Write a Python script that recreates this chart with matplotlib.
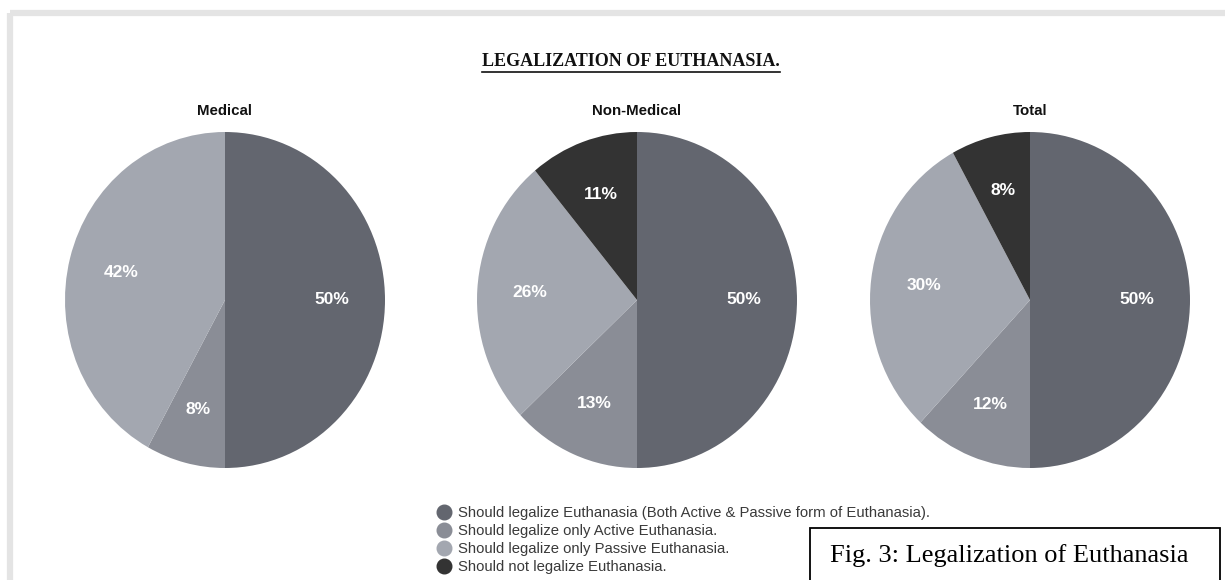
import matplotlib
matplotlib.use('Agg')
import matplotlib.pyplot as plt
from matplotlib.lines import Line2D
from matplotlib.patches import Rectangle

# ===== DATA =====
GROUPS = ["Medical", "Non-Medical", "Total"]
CATEGORIES = [
    "Should legalize Euthanasia (Both Active & Passive form of Euthanasia).",
    "Should legalize only Active Euthanasia.",
    "Should legalize only Passive Euthanasia.",
    "Should not legalize Euthanasia.",
]
MEDICAL = [50, 8, 42, 0]
NON_MEDICAL = [50, 13, 26, 11]
TOTAL = [50, 12, 30, 8]
COLORS = ["#63666f", "#8a8d96", "#a3a7b0", "#333333"]
TITLE = "LEGALIZATION OF EUTHANASIA."
CAPTION = "Fig. 3: Legalization of Euthanasia"
# ===== END DATA =====

W, H = 1225, 580
fig = plt.figure(figsize=(W / 100, H / 100), dpi=100)
fig.patch.set_facecolor('white')


def px_axes(x0, y0, w, h):
    """axes from pixel box (top-left origin)"""
    return fig.add_axes([x0 / W, 1 - (y0 + h) / H, w / W, h / H])


# grey page frame
fig.add_artist(Line2D([10 / W, 10 / W], [0, 1 - 12.5 / H], color='#e4e4e4', lw=4.5,
                      transform=fig.transFigure, solid_capstyle='butt'))
fig.add_artist(Line2D([10 / W, 1], [1 - 12.5 / H, 1 - 12.5 / H], color='#e4e4e4', lw=4.5,
                      transform=fig.transFigure, solid_capstyle='butt'))

centers = [225, 637, 1030]
rx, ry = 160, 168
cy = 300
for name, vals, cx in zip(GROUPS, [MEDICAL, NON_MEDICAL, TOTAL], centers):
    ax = px_axes(cx - rx, cy - ry, 2 * rx, 2 * ry)
    labels = [f"{v}%" if v > 0 else "" for v in vals]
    wedges, texts = ax.pie(vals, colors=COLORS, startangle=90, counterclock=False,
                           labels=labels, labeldistance=0.67,
                           textprops=dict(color='white', fontsize=12.5, fontweight='bold',
                                          family='Liberation Sans'),
                           wedgeprops=dict(linewidth=0))
    for t in texts:
        t.set_ha('center')
        t.set_va('center')
    ax.set_aspect('auto')
    ax.set_xlim(-1, 1)
    ax.set_ylim(-1, 1)
    ax.axis('off')
    fig.text(cx / W, 1 - 111 / H, name, ha='center', va='center', fontsize=10.8,
             fontweight='bold', family='Liberation Sans', color='#111111')

# main title with underline
title = fig.text(631 / W, 1 - 62 / H, TITLE, ha='center', va='center', fontsize=13,
                 fontweight='bold', family='Liberation Serif', color='#111111')
fig.canvas.draw()
bb = title.get_window_extent()
fig.add_artist(Line2D([bb.x0 / W, bb.x1 / W], [1 - 72 / H, 1 - 72 / H], color='#111111',
                      lw=1.2, transform=fig.transFigure))

# legend
handles = [Line2D([], [], marker='o', ls='', markersize=10.5, markerfacecolor=c,
                  markeredgecolor=c) for c in COLORS]
leg = fig.legend(handles, CATEGORIES, loc='upper left',
                 bbox_to_anchor=(437 / W, 1 - 506 / H), frameon=False,
                 prop=dict(family='Liberation Sans', size=10.7),
                 labelspacing=0.28, handlelength=0.9, handletextpad=0.5,
                 borderpad=0, borderaxespad=0)
for t in leg.get_texts():
    t.set_color('#3a3a3a')

# caption box
fig.add_artist(Rectangle((810 / W, -0.05), 410 / W, 1 - 528 / H + 0.05, transform=fig.transFigure,
                         facecolor='white', edgecolor='black', lw=1.3))
fig.text(830 / W, 1 - 556 / H, CAPTION, ha='left', va='center', fontsize=19,
         family='Liberation Serif', color='black')

plt.savefig('out.png', dpi=100)
